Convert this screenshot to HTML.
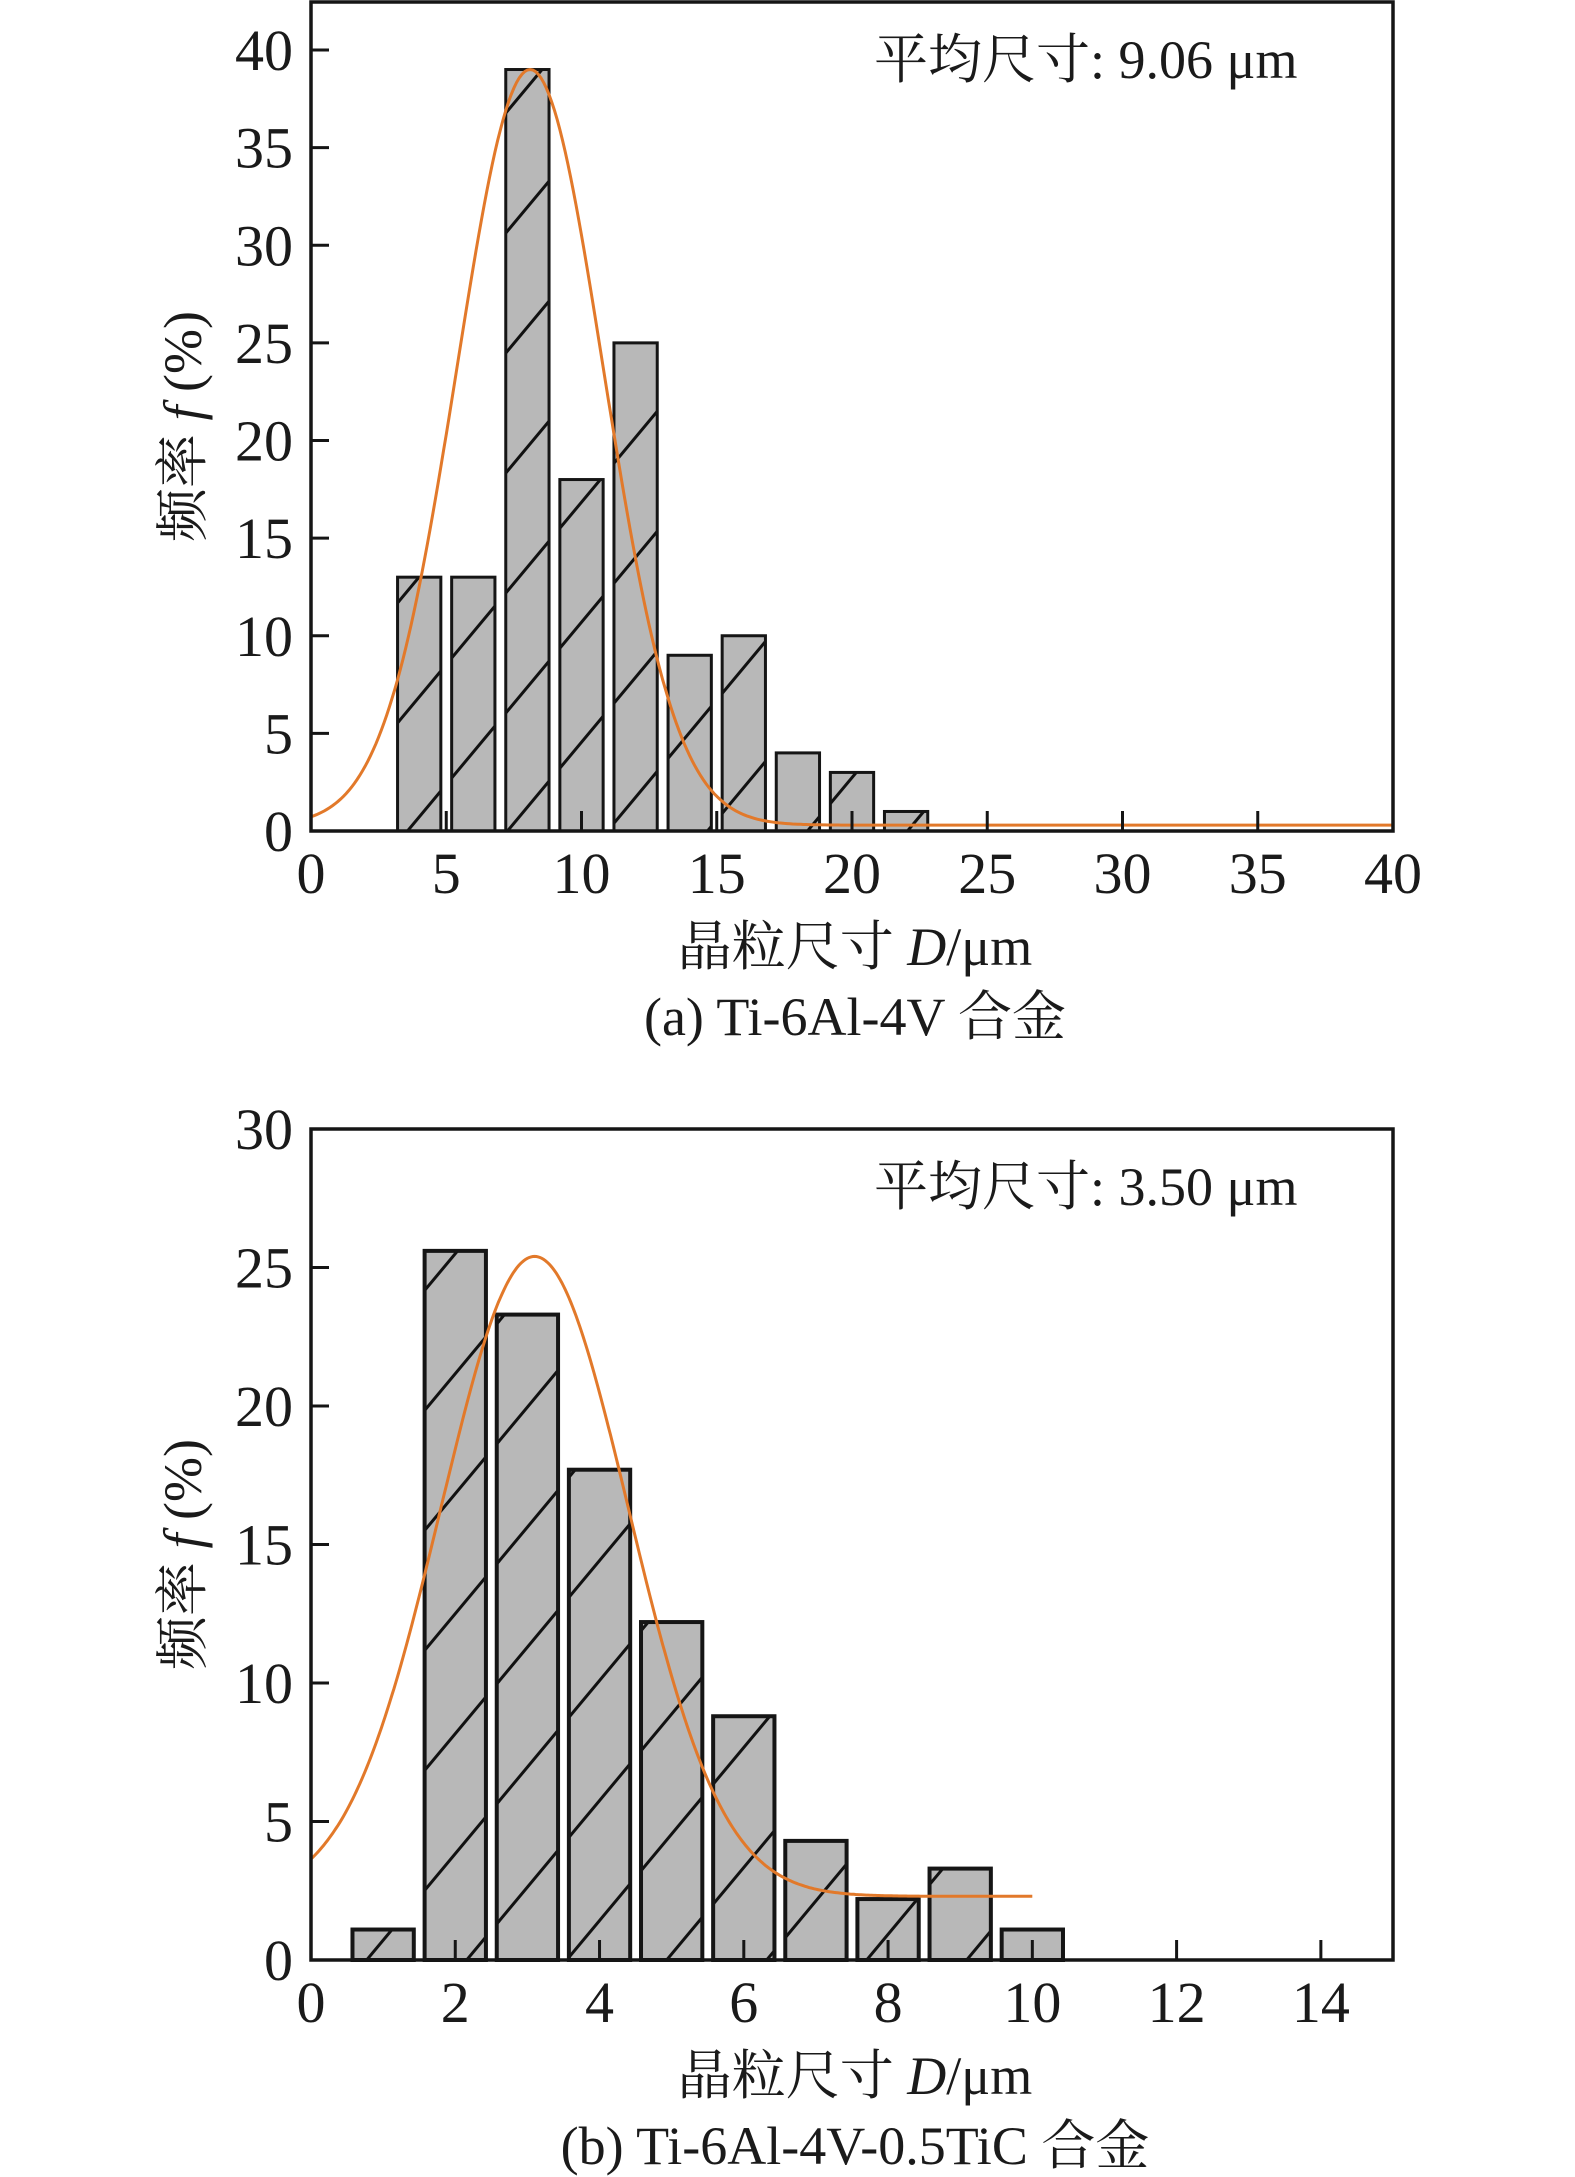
<!DOCTYPE html>
<html><head><meta charset="utf-8"><style>
html,body{margin:0;padding:0;background:#fff;}
svg{display:block;}
text{font-family:"Liberation Serif","Noto Serif CJK SC","Noto Sans CJK SC",serif;fill:#1a1a1a;}
</style></head><body>
<svg id="s" xmlns="http://www.w3.org/2000/svg" width="1575" height="2177" viewBox="0 0 1575 2177">
<defs>
<pattern id="h" patternUnits="userSpaceOnUse" width="100" height="120">
<line x1="0" y1="120" x2="100" y2="0" stroke="#111" stroke-width="3"/>
<line x1="-10" y1="12" x2="10" y2="-12" stroke="#111" stroke-width="3"/>
<line x1="90" y1="132" x2="110" y2="108" stroke="#111" stroke-width="3"/>
</pattern>
</defs>
</svg>
<script>
var s=document.getElementById('s'),NS='http://www.w3.org/2000/svg';
function el(t,a,txt){var e=document.createElementNS(NS,t);for(var k in a)e.setAttribute(k,a[k]);if(txt!==undefined)e.textContent=txt;s.appendChild(e);return e;}
function chart(o){
 var X=function(x){return o.L+(o.R-o.L)*x/o.xmax;},Y=function(y){return o.B-o.py*y;};
 o.bars.forEach(function(b){
  var x0=X(b[0]-o.bw/2),w=X(b[0]+o.bw/2)-x0,y0=Y(b[1]),h=o.B-y0;
  el('rect',{x:x0,y:y0,width:w,height:h,fill:'#b8b8b8'});
  el('rect',{x:x0,y:y0,width:w,height:h,fill:'url(#h)'});
  el('rect',{x:x0,y:y0,width:w,height:h,fill:'none',stroke:'#151515','stroke-width':o.bs});
 });
 var d='';for(var i=0;i<=400;i++){var x=o.cx0+(o.cx1-o.cx0)*i/400;var y=o.y0+o.A*Math.exp(-Math.pow(x-o.xc,2)/(2*o.sg*o.sg));d+=(i?'L':'M')+X(x).toFixed(1)+' '+Y(y).toFixed(1);}
 el('path',{d:d,fill:'none',stroke:'#e2792a','stroke-width':3});
 el('rect',{x:o.L,y:o.T,width:o.R-o.L,height:o.B-o.T,fill:'none',stroke:'#151515','stroke-width':3.5});
 for(var v=0;v<=o.xmax;v+=o.xs){var xx=X(v);if(v>0&&v<o.xmax-0.01)el('line',{x1:xx,y1:o.B,x2:xx,y2:o.B-20,stroke:'#151515','stroke-width':3});
  if(v<=o.xlmax)el('text',{x:xx,y:o.B+62,'text-anchor':'middle','font-size':58},String(v));}
 for(var v=0;v<=o.ylmax;v+=o.ys){var yy=Y(v);if(v>0&&Math.abs(yy-o.T)>3)el('line',{x1:o.L,y1:yy,x2:o.L+18,y2:yy,stroke:'#151515','stroke-width':3});
  el('text',{x:293,y:yy+20,'text-anchor':'end','font-size':58},String(v));}
 el('text',{x:874,y:o.T+o.mt,'font-size':54},o.mean);
 var t=el('text',{x:855,y:o.B+134,'text-anchor':'middle','font-size':54});
 t.innerHTML='晶粒尺寸 <tspan font-style="italic">D</tspan>/μm';
 el('text',{x:855,y:o.B+204,'text-anchor':'middle','font-size':54},o.cap);
 var g=el('text',{x:0,y:0,'text-anchor':'middle','font-size':54,transform:'translate('+(o.L-110)+','+((o.T+o.B)/2+10)+') rotate(-90)'});
 g.innerHTML='频率 <tspan font-style="italic">f</tspan> (%)';
}
chart({L:311,R:1393,T:2,B:831,py:19.525,xmax:40,ylmax:40,xs:5,ys:5,xlmax:40,bw:1.6,bs:3,
 bars:[[4,13],[6,13],[8,39],[10,18],[12,25],[14,9],[16,10],[18,4],[20,3],[22,1]],
 cx0:0,cx1:40,y0:0.3,A:38.7,xc:8.1,sg:2.7,mt:76,mean:'平均尺寸: 9.06 μm',cap:'(a) Ti-6Al-4V 合金'});
chart({L:311,R:1393,T:1129,B:1960,py:27.7,xmax:15,ylmax:30,xs:2,ys:5,xlmax:14,bw:0.85,bs:4,
 bars:[[1,1.1],[2,25.6],[3,23.3],[4,17.7],[5,12.2],[6,8.8],[7,4.3],[8,2.2],[9,3.3],[10,1.1]],
 cx0:0,cx1:10,y0:2.3,A:23.1,xc:3.1,sg:1.3,mt:76,mean:'平均尺寸: 3.50 μm',cap:'(b) Ti-6Al-4V-0.5TiC 合金'});
</script>
</body></html>
